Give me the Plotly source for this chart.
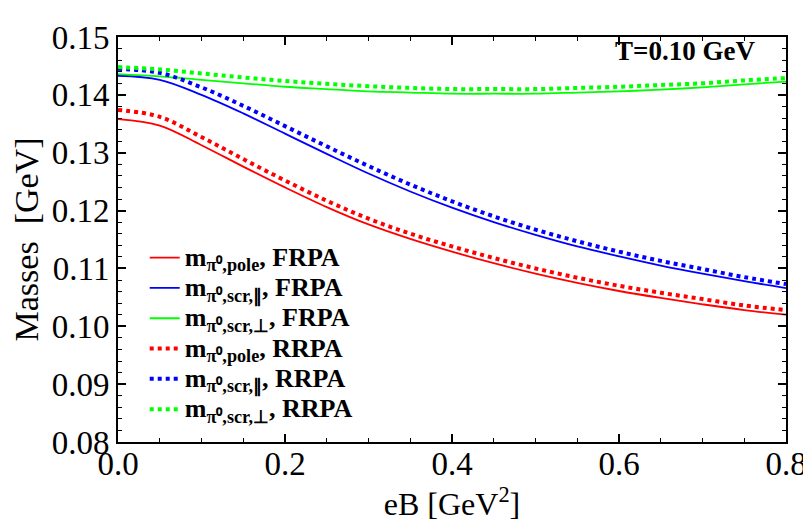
import plotly.graph_objects as go

eB = [0.0, 0.05, 0.1, 0.15, 0.2, 0.25, 0.3, 0.35, 0.4, 0.45, 0.5, 0.55, 0.6, 0.65, 0.7, 0.75, 0.8]

pole_frpa = [0.1358, 0.1347, 0.1313, 0.1276, 0.1240, 0.1206, 0.1176, 0.1151, 0.1129, 0.1109, 0.1091, 0.1075, 0.1061, 0.1049, 0.1038, 0.1028, 0.1020]
par_frpa = [0.1433, 0.1426, 0.1400, 0.1368, 0.1333, 0.1298, 0.1264, 0.1233, 0.1205, 0.1180, 0.1158, 0.1138, 0.1121, 0.1105, 0.1091, 0.1078, 0.1066]
perp_frpa = [0.1436, 0.1432, 0.1426, 0.1420, 0.1414, 0.1410, 0.1406, 0.1404, 0.1402, 0.1402, 0.1402, 0.1404, 0.1406, 0.1409, 0.1413, 0.1418, 0.1423]
pole_rrpa = [0.1374, 0.1362, 0.1327, 0.1289, 0.1252, 0.1217, 0.1186, 0.1160, 0.1138, 0.1118, 0.1100, 0.1084, 0.1070, 0.1058, 0.1047, 0.1036, 0.1028]
par_rrpa = [0.1445, 0.1438, 0.1413, 0.1381, 0.1346, 0.1311, 0.1277, 0.1245, 0.1216, 0.1190, 0.1167, 0.1147, 0.1129, 0.1113, 0.1099, 0.1085, 0.1073]
perp_rrpa = [0.1448, 0.1444, 0.1437, 0.1430, 0.1424, 0.1419, 0.1415, 0.1412, 0.1410, 0.1410, 0.1410, 0.1412, 0.1414, 0.1417, 0.1420, 0.1425, 0.1429]

x_ticks = [0.0, 0.2, 0.4, 0.6, 0.8]
x_ticklabels = ["0.0", "0.2", "0.4", "0.6", "0.8"]
y_ticks = [0.08, 0.09, 0.10, 0.11, 0.12, 0.13, 0.14, 0.15]
y_ticklabels = ["0.08", "0.09", "0.10", "0.11", "0.12", "0.13", "0.14", "0.15"]

names = [
    "m<sub>π⁰,pole</sub>, FRPA",
    "m<sub>π⁰,scr,∥</sub>, FRPA",
    "m<sub>π⁰,scr,⊥</sub>, FRPA",
    "m<sub>π⁰,pole</sub>, RRPA",
    "m<sub>π⁰,scr,∥</sub>, RRPA",
    "m<sub>π⁰,scr,⊥</sub>, RRPA",
]
series = [pole_frpa, par_frpa, perp_frpa, pole_rrpa, par_rrpa, perp_rrpa]
colors = ["#FF0000", "#0000FF", "#00FF00", "#FF0000", "#0000FF", "#00FF00"]
dashes = ["solid", "solid", "solid", "dot", "dot", "dot"]
widths = [1.8, 1.8, 1.8, 4, 4, 4]

SERIF = "Liberation Serif"

fig = go.Figure()
for n, y, c, d, w in zip(names, series, colors, dashes, widths):
    fig.add_trace(go.Scatter(
        x=eB, y=y, mode="lines",
        name='<span style="font-size:26px">' + n + '</span>',
        line=dict(color=c, dash=d, width=w, shape="spline", smoothing=1.0)))

axis_common = dict(
    showline=True, linecolor="black", linewidth=2, mirror="allticks",
    ticks="inside", ticklen=8, tickwidth=1.5, tickcolor="black",
    showgrid=False, zeroline=False, ticklabeloverflow="allow",
    tickfont=dict(family=SERIF, size=33, color="black"),
)

fig.update_xaxes(range=[0, 0.8], tickmode="array", tickvals=x_ticks, ticktext=x_ticklabels,
                 ticklabelstandoff=-9,
                 minor=dict(dtick=0.05, tick0=0, ticks="inside", ticklen=4, tickcolor="black", tickwidth=1.2),
                 title=dict(text="eB [GeV<sup>2</sup>]", font=dict(family=SERIF, size=32, color="black"), standoff=0),
                 **axis_common)
fig.update_yaxes(range=[0.08, 0.15], tickmode="array", tickvals=y_ticks, ticktext=y_ticklabels,
                 minor=dict(dtick=0.002, tick0=0.08, ticks="inside", ticklen=4, tickcolor="black", tickwidth=1.2),
                 title=dict(text="Masses  [GeV]", font=dict(family=SERIF, size=34, color="black"), standoff=4),
                 **axis_common)

fig.add_annotation(text="<b>T=0.10 GeV</b>", xref="paper", yref="paper", x=0.957, y=0.965,
                   xanchor="right", yanchor="middle", showarrow=False,
                   font=dict(family=SERIF, size=27, color="black"))

fig.update_layout(
    width=811, height=522,
    margin=dict(l=110, r=24, t=15, b=88),
    paper_bgcolor="white", plot_bgcolor="white",
    showlegend=True,
    legend=dict(x=0.04, y=0.505, xanchor="left", yanchor="top",
                bgcolor="rgba(0,0,0,0)", borderwidth=0,
                font=dict(family=SERIF, size=21, color="black", weight="bold"),
                itemwidth=30, tracegroupgap=0),
)

fig.write_html("out.html")
